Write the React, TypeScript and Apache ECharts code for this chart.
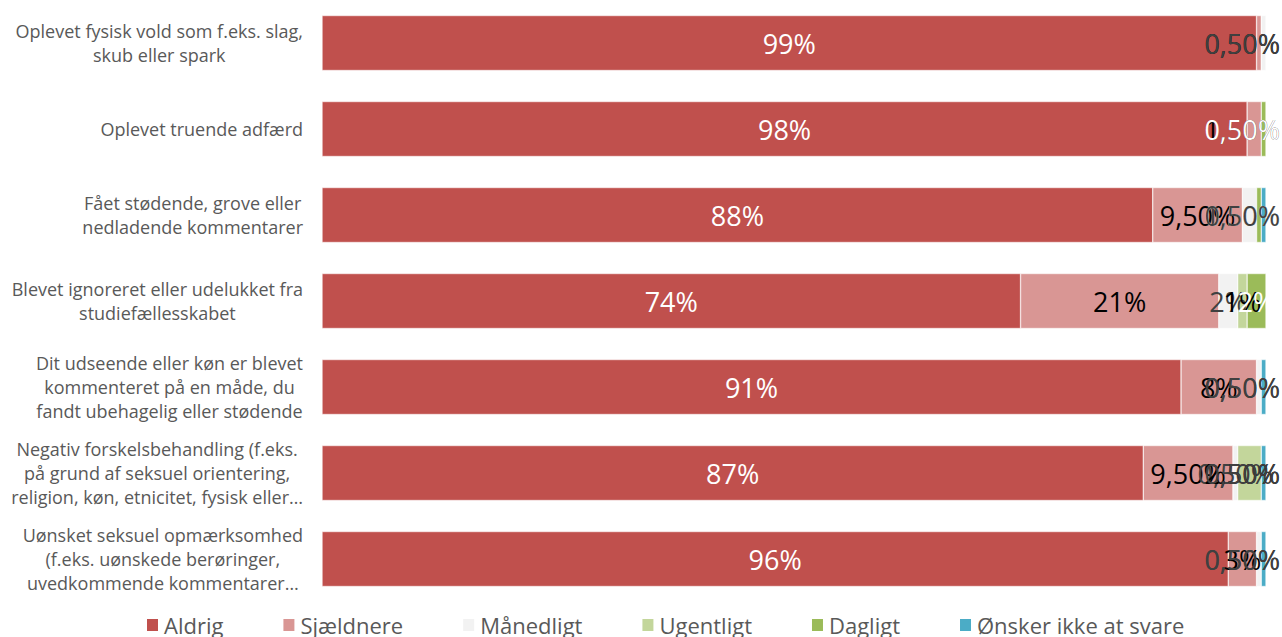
import React, { useEffect, useRef } from "react";
import * as echarts from "echarts";

const categories = [
  "Oplevet fysisk vold som f.eks. slag,\nskub eller spark",
  "Oplevet truende adfærd",
  "Fået stødende, grove eller\nnedladende kommentarer",
  "Blevet ignoreret eller udelukket fra\nstudiefællesskabet",
  "Dit udseende eller køn er blevet\nkommenteret på en måde, du\nfandt ubehagelig eller stødende",
  "Negativ forskelsbehandling (f.eks.\npå grund af seksuel orientering,\nreligion, køn, etnicitet, fysisk eller…",
  "Uønsket seksuel opmærksomhed\n(f.eks. uønskede berøringer,\nuvedkommende kommentarer…",
];

const seriesNames = ["Aldrig", "Sjældnere", "Månedligt", "Ugentligt", "Dagligt", "Ønsker ikke at svare"];

const aldrig = [99, 98, 88, 74, 91, 87, 96];
const sjaeldnere = [0.5, 1.5, 9.5, 21, 8, 9.5, 3];
const maanedligt = [0.5, 0, 1.5, 2, 0.5, 0.5, 0.5];
const ugentligt = [0, 0, 0, 1, 0, 2.5, 0];
const dagligt = [0, 0.5, 0.5, 2, 0, 0, 0];
const oensker = [0, 0, 0.5, 0, 0.5, 0.5, 0.5];

const seriesValues = [aldrig, sjaeldnere, maanedligt, ugentligt, dagligt, oensker];
const seriesColors = ["#C0504D", "#D99694", "#F2F2F2", "#C3D69B", "#9BBB59", "#4BACC6"];
const labelColors = ["#FFFFFF", "#000000", "#404040", "#000000", "#FFFFFF", "#404040"];

const W = 1282;
const H = 637;

function fmt(v: number): string {
  if (Number.isInteger(v)) return `${v}%`;
  return v.toFixed(2).replace(".", ",") + "%";
}

export default function App() {
  const ref = useRef<HTMLDivElement>(null);
  useEffect(() => {
    if (!ref.current) return;
    const chart = echarts.init(ref.current, undefined, { renderer: "svg" });
    const font = "'Open Sans', 'Noto Sans', sans-serif";
    chart.setOption({
      animation: false,
      textStyle: { fontFamily: font },
      grid: { left: 322, right: 16, top: 0, height: 602, containLabel: false },
      xAxis: {
        type: "value",
        min: 0,
        max: 100,
        show: false,
      },
      yAxis: {
        type: "category",
        inverse: true,
        data: categories,
        axisLine: { show: false },
        axisTick: { show: false },
        splitLine: { show: false },
        axisLabel: {
          margin: 19,
          align: "right",
          formatter: (v: string) =>
            v
              .split("\n")
              .map((l) => `{c|${l}}`)
              .join("\n"),
          rich: {
            c: {
              align: "center",
              fontSize: 18,
              lineHeight: 24,
              color: "#595959",
              fontFamily: font,
            },
          },
        },
      },
      legend: {
        left: 140,
        top: 609,
        icon: "rect",
        itemWidth: 13,
        itemHeight: 14,
        itemGap: 58,
        textStyle: { fontSize: 22, color: "#595959", fontFamily: font },
        data: seriesNames,
      },
      series: seriesNames.map((name, i) => ({
        name,
        type: "bar",
        stack: "total",
        barWidth: 55,
        itemStyle: { color: seriesColors[i], borderColor: "#FFFFFF", borderWidth: 0.5 },
        label: {
          show: true,
          position: "inside",
          color: labelColors[i],
          fontSize: 27,
          fontFamily: font,
          formatter: (p: any) => (p.value ? fmt(p.value) : ""),
        },
        labelLayout: (params: any) => {
          const r = params.labelRect;
          if (!r) return {};
          const over = r.x + r.width - (W - 2);
          return over > 0 ? { dx: -over } : {};
        },
        data: seriesValues[i].map((v) => (v === 0 ? "-" : v)),
      })),
    });
    return () => chart.dispose();
  }, []);
  return (
    <div
      ref={ref}
      style={{ position: "fixed", left: 0, top: 0, width: W, height: H, background: "#fff" }}
    />
  );
}
